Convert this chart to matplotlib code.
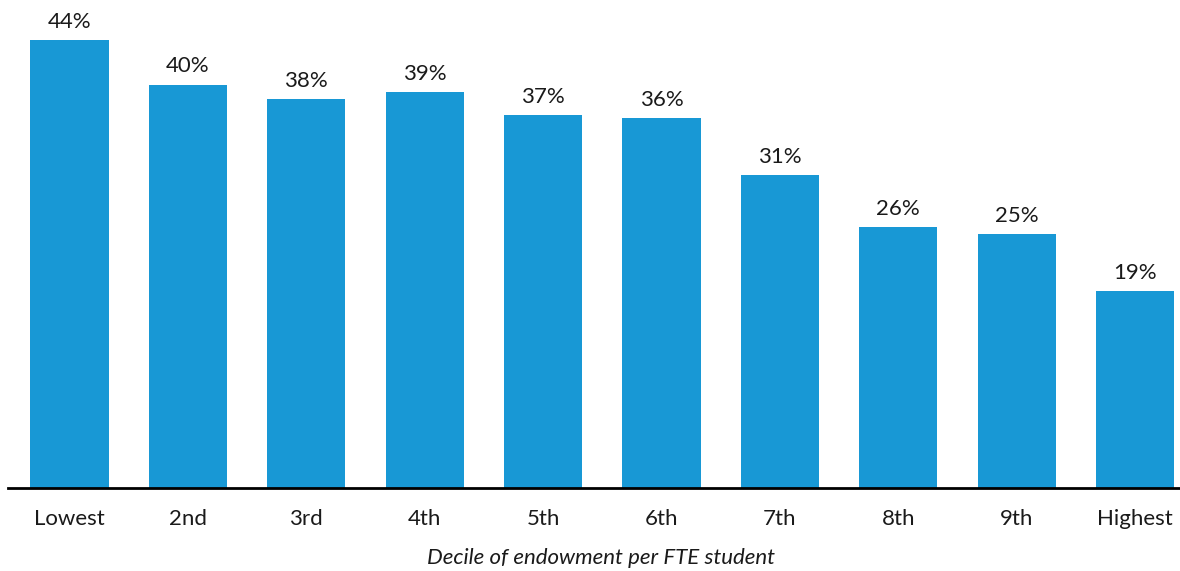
import matplotlib
matplotlib.use("Agg")
from matplotlib import pyplot as plt
import numpy as np

plt.rcParams['font.family'] = ['Lato', 'DejaVu Sans']

deciles = ['Lowest', '2nd', '3rd', '4th', '5th', '6th', '7th', '8th', '9th', 'Highest']
shares = [44.0, 39.6, 38.2, 38.9, 36.6, 36.3, 30.7, 25.6, 24.9, 19.3]
bar_color = '#1898d5'

fig = plt.figure(figsize=(11.8, 5.71), dpi=100)
ax = fig.add_axes([8 / 1180, (571 - 488) / 571, 1 - 8 / 1180, 488 / 571])

x = np.arange(len(deciles))
ax.bar(x, shares, width=0.66, color=bar_color)
for xi, v in zip(x, shares):
    ax.text(xi, v + 0.8, f'{v:.0f}%', ha='center', va='bottom', fontsize=16, color='#1a1a1a')

ax.set_xlim(-0.52, 9.38)
ax.set_ylim(0, 47.9)
ax.set_xticks(x)
ax.set_xticklabels(deciles, fontsize=16, color='#1a1a1a')
ax.tick_params(axis='x', length=0, pad=15)
ax.set_yticks([])
for side in ['top', 'right', 'left']:
    ax.spines[side].set_visible(False)
ax.spines['bottom'].set_linewidth(2)
ax.spines['bottom'].set_color('black')
ax.set_xlabel('Decile of endowment per FTE student', fontsize=16, style='italic',
              color='#1a1a1a', labelpad=14)
ax.xaxis.label.set_x((601 - 8) / 1172)

fig.savefig('out.png', dpi=100)
